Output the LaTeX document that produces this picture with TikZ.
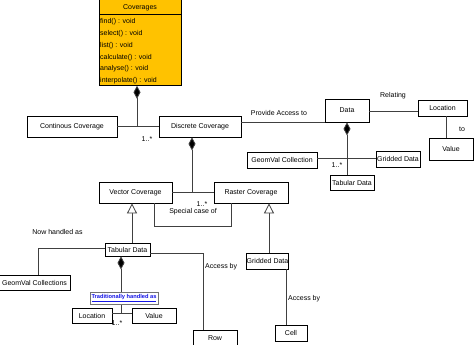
\documentclass[tikz,border=0pt]{standalone}
\usepackage{fontspec}
\setmainfont{Liberation Sans}
\usetikzlibrary{arrows.meta,shadows}
\definecolor{covyellow}{RGB}{255,194,0}
\definecolor{linkblue}{RGB}{20,20,230}
\begin{document}
\begin{tikzpicture}[x=1pt,y=-1pt,
  box/.style={draw=black,line width=0.8pt,fill=white,inner sep=0pt,
    font=\fontsize{7}{8}\selectfont,
    drop shadow={shadow xshift=0.7pt,shadow yshift=-0.7pt,fill=black,opacity=1}},
  conn/.style={draw=black!75,line width=0.8pt},
  lbl/.style={font=\fontsize{7}{8}\selectfont,inner sep=0pt},
  comp/.style={conn,{Diamond[length=13pt,width=7pt,fill=black]}-},
  inh/.style={conn,-{Triangle[open,length=10pt,width=10pt,fill=white]}}]
\useasboundingbox (0,0) rectangle (474,345);
% Coverages class
\node[draw=black,line width=0.8pt,fill=covyellow,minimum width=82pt,minimum height=86pt,inner sep=0pt,anchor=north west] (cov) at (99,-1) {};
\draw[line width=0.8pt] (99,14) -- (181,14);
\node[lbl] (covt) at (140,8) {Coverages};
\node[lbl,anchor=west] (m1) at (100,22) {find() : void};
\node[lbl,anchor=west] (m2) at (100,34) {select() : void};
\node[lbl,anchor=west] (m3) at (100,46) {list() : void};
\node[lbl,anchor=west] (m4) at (100,57.5) {calculate() : void};
\node[lbl,anchor=west] (m5) at (100,69) {analyse() : void};
\node[lbl,anchor=west] (m6) at (100,80.5) {interpolate() : void};
% boxes
\node[box,minimum width=90pt,minimum height=21pt] (cont) at (72,126.5) {Continous Coverage};
\node[box,minimum width=82pt,minimum height=21pt] (disc) at (200,126.5) {Discrete Coverage};
\node[box,minimum width=44pt,minimum height=23pt] (data) at (347,110.5) {Data};
\node[box,minimum width=49pt,minimum height=16pt] (loc1) at (442.5,108) {Location};
\node[box,minimum width=44pt,minimum height=22pt] (val1) at (451,149) {Value};
\node[box,minimum width=70pt,minimum height=16pt] (geom1) at (282,160) {GeomVal Collection};
\node[box,minimum width=44pt,minimum height=16pt] (grid1) at (398,159) {Gridded Data};
\node[box,minimum width=44pt,minimum height=15pt] (tab1) at (352,182.5) {Tabular Data};
\node[box,minimum width=73pt,minimum height=21pt] (vec) at (135.5,192.5) {Vector Coverage};
\node[box,minimum width=74pt,minimum height=21pt] (ras) at (251,192.5) {Raster Coverage};
\node[box,minimum width=45pt,minimum height=13pt] (tab2) at (127.5,249.5) {Tabular Data};
\node[box,minimum width=71pt,minimum height=15pt] (geom2) at (34.5,282.5) {GeomVal Collections};
\node[box,minimum width=40pt,minimum height=15pt] (loc2) at (92,315.5) {Location};
\node[box,minimum width=44pt,minimum height=15pt] (val2) at (154,315.5) {Value};
\node[box,minimum width=44pt,minimum height=16pt] (row) at (215,338) {Row};
\node[box,minimum width=39pt,minimum height=16pt] (grid2) at (267.5,261) {Gridded Data};
\node[box,minimum width=32pt,minimum height=16pt] (cell) at (291,333) {Cell};
% helper coordinates
\coordinate (j1) at (137,126.5);
\coordinate (j2) at (192,192.5);
\coordinate (xa) at (154,0);
\coordinate (xb) at (231,0);
\coordinate (sc1) at (154,226);
\coordinate (sc2) at (231,226);
\coordinate (x132) at (132,0);
\coordinate (c38) at (38,248);
\coordinate (c203) at (203,253);
\coordinate (x121) at (121,0);
\coordinate (j3) at (121,313);
\coordinate (x269) at (269,0);
\coordinate (x286) at (286,0);
\coordinate (pa) at (325,122);
\coordinate (x347) at (347,0);
\coordinate (x446) at (446,0);
% connectors
\draw[conn] (cont.east) -- (disc.west);
\draw[comp] (cov.south -| j1) -- (j1);
\draw[conn] (vec.east) -- (ras.west);
\draw[comp] (disc.south -| j2) -- (j2);
\draw[conn] (vec.south -| xa) -- (sc1) -- (sc2) -- (ras.south -| xb);
\draw[inh] (tab2.north -| x132) -- (vec.south -| x132);
\draw[conn] (tab2.west |- c38) -- (c38) -- (c38 |- geom2.north);
\draw[conn] (tab2.east |- c203) -- (c203) -- (c203 |- row.north);
\draw[comp] (tab2.south -| x121) -- (j3);
\draw[conn] (loc2.east |- j3) -- (val2.west |- j3);
\draw[inh] (grid2.north -| x269) -- (ras.south -| x269);
\draw[conn] (grid2.south -| x286) -- (cell.north -| x286);
\draw[conn] (disc.east |- pa) -- (pa);
\draw[conn] (data.east |- loc1.west) ++(0,3) coordinate (d1) -- (loc1.west |- d1);
\draw[conn] (loc1.south -| x446) -- (val1.north -| x446);
\draw[comp] (data.south -| x347) -- (tab1.north -| x347);
\draw[conn] (geom1.east |- grid1.west) ++(0,-1) coordinate (g1) -- (grid1.west |- g1);
% blue label on top of the line
\node[draw=black!55,line width=0.6pt,fill=white,minimum width=68pt,minimum height=12pt,inner sep=0pt,
  font=\fontsize{5.7}{6.5}\selectfont\bfseries,text=linkblue] (trad) at (124,298) {\underline{Traditionally handled as}};
% labels
\node[lbl] (l1) at (147,139) {1..*};
\node[lbl] (l2) at (202,204) {1..*};
\node[lbl] (l3) at (193,211.5) {Special case of};
\node[lbl] (l4) at (57.5,232) {Now handled as};
\node[lbl,anchor=west] (l5) at (205,267) {Access by};
\node[lbl] (l6) at (117,323) {1..*};
\node[lbl,anchor=west] (l7) at (288,299) {Access by};
\node[lbl] (l8) at (279,113) {Provide Access to};
\node[lbl] (l9) at (393,96) {Relating};
\node[lbl] (l10) at (462,129) {to};
\node[lbl] (l11) at (337,165) {1..*};
\end{tikzpicture}
\end{document}
